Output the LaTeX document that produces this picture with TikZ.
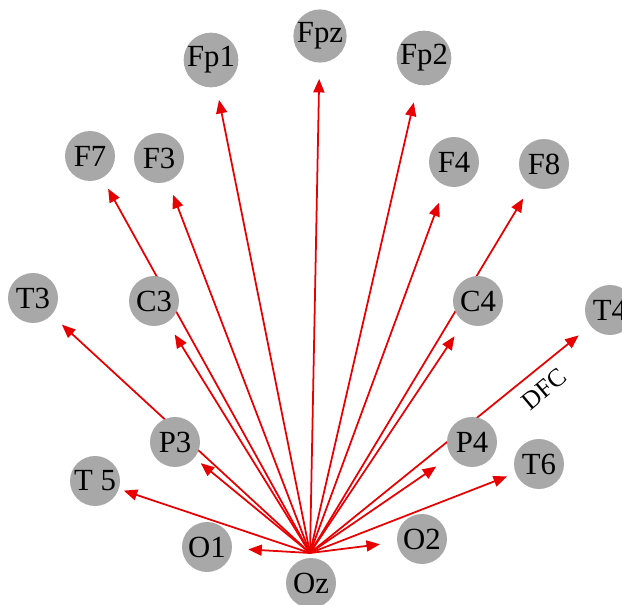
\documentclass[tikz,border=0pt]{standalone}
\usepackage{fontspec}
\setmainfont{Liberation Serif}
\usetikzlibrary{arrows.meta,backgrounds}
\definecolor{nodegray}{RGB}{168,168,168}
\definecolor{edgered}{RGB}{232,0,0}
\begin{document}
\begin{tikzpicture}[x=0.02cm,y=-0.02cm,
  elec/.style={circle,fill=nodegray,minimum size=1.0cm,inner sep=0pt,font=\fontsize{17.5}{20}\selectfont},
  link/.style={draw=edgered,line width=1pt,-{Triangle[length=0.27cm,width=0.22cm]}},
  lbl/.style={font=\fontsize{14.5}{16}\selectfont,inner sep=0pt}
]
\useasboundingbox (0,0) rectangle (622,605);
\node[elec] (Fpz) at (320,36) {Fpz};
\node[elec] (Fp1) at (211,60) {Fp1};
\node[elec] (Fp2) at (424,58) {Fp2};
\node[elec] (F7) at (90,156) {F7};
\node[elec] (F3) at (159,158) {F3};
\node[elec] (F4) at (454,162) {F4};
\node[elec] (F8) at (544,164) {F8};
\node[elec] (T3) at (33,298) {T3};
\node[elec] (C3) at (154,301) {C3};
\node[elec] (C4) at (478,301) {C4};
\node[elec] (T4) at (610,310) {T4};
\node[elec] (P3) at (175,442) {P3};
\node[elec] (P4) at (472,442) {P4};
\node[elec] (T5) at (95,481) {T 5};
\node[elec] (T6) at (539,464) {T6};
\node[elec] (O1) at (207,547) {O1};
\node[elec] (O2) at (422,539) {O2};
\node[elec] (Oz) at (311,583) {Oz};
\coordinate (hub) at (310,553);
\node[lbl,rotate=40] (dfc) at (544,389) {DFC};
\begin{scope}[on background layer]
\draw[link,shorten >=0.32cm] (hub) -- (Fpz);
\draw[link,shorten >=0.26cm] (hub) -- (Fp1);
\draw[link,shorten >=0.36cm] (hub) -- (Fp2);
\draw[link,shorten >=0.24cm] (hub) -- (F7);
\draw[link,shorten >=0.28cm] (hub) -- (F3);
\draw[link,shorten >=0.36cm] (hub) -- (F4);
\draw[link,shorten >=0.30cm] (hub) -- (F8);
\draw[link,shorten >=0.28cm] (hub) -- (T3);
\draw[link,shorten >=0.28cm] (hub) -- (C3);
\draw[link,shorten >=0.34cm] (hub) -- (C4);
\draw[link,shorten >=0.30cm] (hub) -- (T4);
\draw[link,shorten >=0.16cm] (hub) -- (P3);
\draw[link,shorten >=0.36cm] (hub) -- (P4);
\draw[link,shorten >=0.10cm] (hub) -- (T5);
\draw[link,shorten >=0.18cm] (hub) -- (T6);
\draw[link,shorten >=0.32cm] (hub) -- (O1);
\draw[link,shorten >=0.34cm] (hub) -- (O2);
\end{scope}
\end{tikzpicture}
\end{document}
